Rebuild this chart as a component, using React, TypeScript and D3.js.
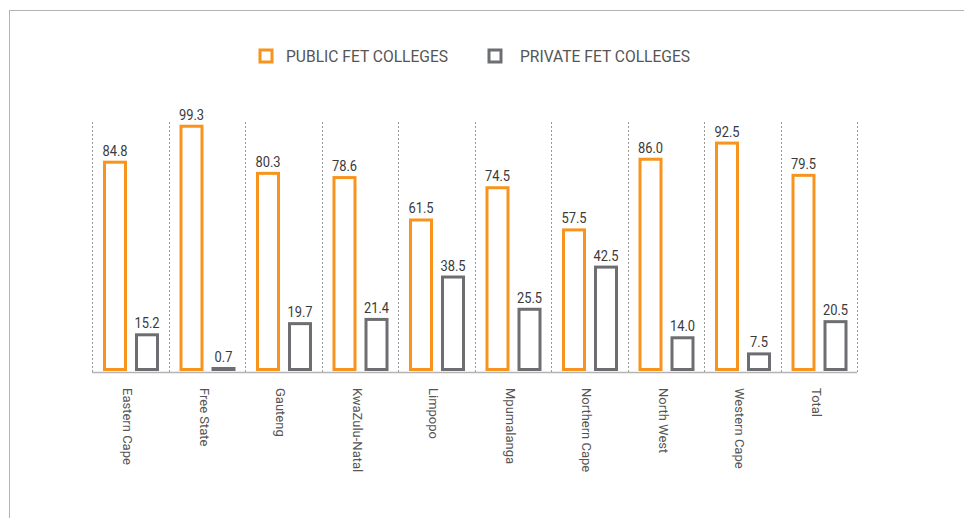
import React, { useRef, useEffect } from "react";
import * as d3 from "d3";

const provinces = [
  "Eastern Cape",
  "Free State",
  "Gauteng",
  "KwaZulu-Natal",
  "Limpopo",
  "Mpumalanga",
  "Northern Cape",
  "North West",
  "Western Cape",
  "Total",
];
const publicShare = [84.8, 99.3, 80.3, 78.6, 61.5, 74.5, 57.5, 86.0, 92.5, 79.5];
const privateShare = [15.2, 0.7, 19.7, 21.4, 38.5, 25.5, 42.5, 14.0, 7.5, 20.5];
const seriesNames = ["PUBLIC FET COLLEGES", "PRIVATE FET COLLEGES"];

const ORANGE = "#f7941d";
const GREY = "#6d6e71";

export default function App() {
  const ref = useRef<SVGSVGElement>(null);

  useEffect(() => {
    const svg = d3.select(ref.current);
    svg.selectAll("*").remove();

    const left = 92;
    const right = 857;
    const baseY = 372;

    // outer frame (only top and left edges are visible)
    svg
      .append("rect")
      .attr("x", 9.5)
      .attr("y", 10.5)
      .attr("width", 1000)
      .attr("height", 1000)
      .attr("fill", "none")
      .attr("stroke", "#b3b3b3")
      .attr("stroke-width", 1);

    const x = d3.scaleBand<string>().domain(provinces).range([left, right]);
    const y = d3.scaleLinear().domain([0, 100]).range([371, 123]);

    const bw = 21;
    const off = [12.5, 44.5];

    // dashed separators
    const edges = provinces.map((p) => x(p)!).concat([right]);
    svg
      .append("g")
      .selectAll("line")
      .data(edges)
      .enter()
      .append("line")
      .attr("x1", (d) => Math.round(d) + 0.5)
      .attr("x2", (d) => Math.round(d) + 0.5)
      .attr("y1", 122)
      .attr("y2", baseY)
      .attr("stroke", "#9a9a9a")
      .attr("stroke-dasharray", "2,2");

    // baseline
    svg
      .append("line")
      .attr("x1", left)
      .attr("x2", right)
      .attr("y1", baseY + 0.5)
      .attr("y2", baseY + 0.5)
      .attr("stroke", "#b3b3b3")
      .attr("stroke-width", 1.5);

    const series = [publicShare, privateShare];
    const colors = [ORANGE, GREY];

    series.forEach((vals, si) => {
      const g = svg.append("g");
      g.selectAll("rect")
        .data(vals)
        .enter()
        .append("rect")
        .attr("x", (_, i) => x(provinces[i])! + off[si])
        .attr("y", (d) => Math.min(y(d) + 1.5, 368.5))
        .attr("width", bw)
        .attr("height", (d) => Math.max(368 - y(d), 1))
        .attr("fill", (d) => (d < 2 ? colors[si] : "#fff"))
        .attr("stroke", colors[si])
        .attr("stroke-width", 3);

      g.selectAll("text")
        .data(vals)
        .enter()
        .append("text")
        .attr(
          "transform",
          (d, i) =>
            `translate(${x(provinces[i])! + off[si] + bw / 2},${Math.min(y(d), 367) - 5}) scale(0.86,1)`
        )
        .attr("text-anchor", "middle")
        .attr("font-family", "Roboto, sans-serif")
        .attr("font-size", 15)
        .attr("fill", "#3a3a3a")
        .text((d) => d.toFixed(1));
    });

    // category labels, rotated
    svg
      .append("g")
      .selectAll("text")
      .data(provinces)
      .enter()
      .append("text")
      .attr("transform", (d) => `translate(${x(d)! + 36},${baseY + 16}) rotate(90)`)
      .attr("dy", "0.35em")
      .attr("font-family", "Roboto, sans-serif")
      .attr("font-size", 13)
      .attr("fill", "#555")
      .text((d) => d);

    // legend
    const legendX = [260, 489];
    const legendTextX = [286, 520];
    seriesNames.forEach((name, i) => {
      svg
        .append("rect")
        .attr("x", legendX[i])
        .attr("y", 50)
        .attr("width", 12)
        .attr("height", 12)
        .attr("fill", "#fff")
        .attr("stroke", colors[i])
        .attr("stroke-width", 3);
      svg
        .append("text")
        .attr("x", legendTextX[i])
        .attr("y", 57)
        .attr("dy", "0.35em")
        .attr("font-family", "Roboto, sans-serif")
        .attr("font-size", 15.6)
        .attr("fill", "#555")
        .text(name);
    });
  }, []);

  return (
    <svg
      ref={ref}
      width={964}
      height={518}
      style={{ position: "absolute", left: 0, top: 0, background: "#fff" }}
    />
  );
}
